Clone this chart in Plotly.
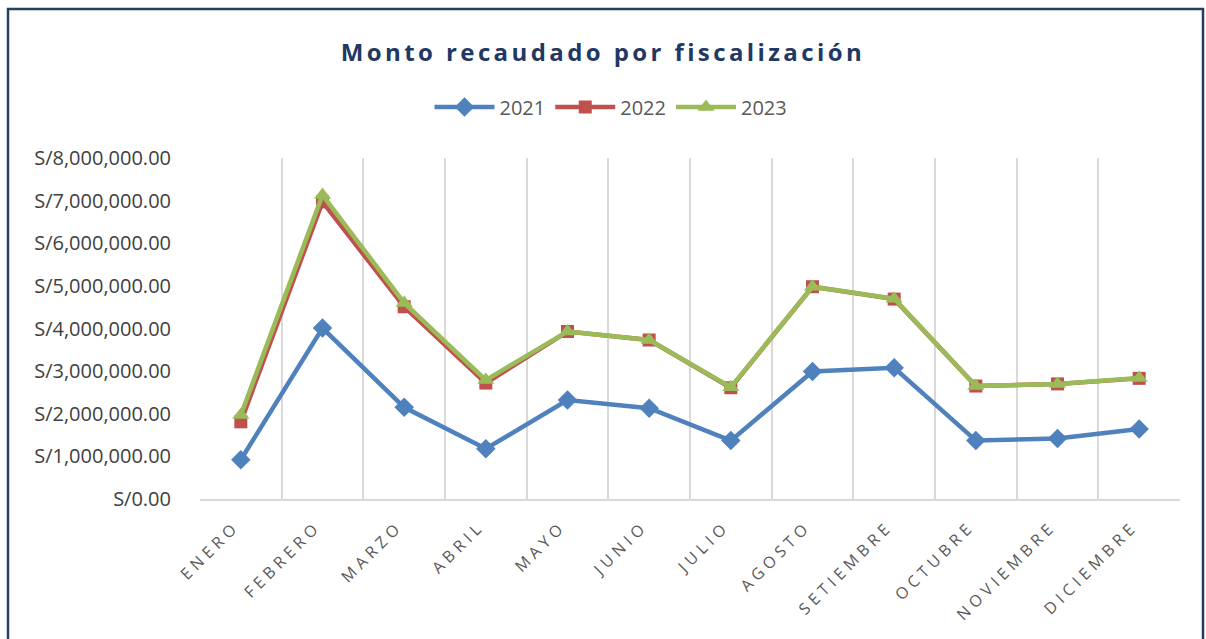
import plotly.graph_objects as go

meses = ["ENERO", "FEBRERO", "MARZO", "ABRIL", "MAYO", "JUNIO", "JULIO",
         "AGOSTO", "SETIEMBRE", "OCTUBRE", "NOVIEMBRE", "DICIEMBRE"]
v2021 = [920000, 4010000, 2150000, 1180000, 2320000, 2130000, 1370000,
         2990000, 3080000, 1370000, 1420000, 1640000]
v2022 = [1810000, 6970000, 4510000, 2720000, 3930000, 3730000, 2610000,
         4980000, 4690000, 2650000, 2700000, 2830000]
v2023 = [1970000, 7130000, 4600000, 2790000, 3930000, 3730000, 2620000,
         4980000, 4700000, 2650000, 2700000, 2840000]
y_ticks = [0, 1000000, 2000000, 3000000, 4000000, 5000000, 6000000, 7000000, 8000000]
y_labels = [f"S/{v:,.2f}" for v in y_ticks]

fig = go.Figure()
fig.add_trace(go.Scatter(x=meses, y=v2021, name="2021", mode="lines+markers",
                         line=dict(color="#4F81BD", width=4.5),
                         marker=dict(symbol="diamond", size=15, color="#4F81BD")))
fig.add_trace(go.Scatter(x=meses, y=v2022, name="2022", mode="lines+markers",
                         line=dict(color="#C0504D", width=4.5),
                         marker=dict(symbol="square", size=13, color="#C0504D")))
fig.add_trace(go.Scatter(x=meses, y=v2023, name="2023", mode="lines+markers",
                         line=dict(color="#9BBB59", width=4.5),
                         marker=dict(symbol="triangle-up", size=15, color="#9BBB59")))

L, R, T, B = 200, 26, 158, 140
W, H = 1206, 639
pw = W - L - R
ph = H - T - B

def px_x(px):
    return (px - L) / pw

def px_y(py):
    return (H - B - py) / ph

fig.update_layout(
    width=W, height=H,
    margin=dict(l=L, r=R, t=T, b=B),
    paper_bgcolor="white", plot_bgcolor="white",
    title=dict(text="<b>Monto recaudado por fiscalización</b>",
               x=603 / W, xanchor="center", y=1 - 53 / H, yanchor="middle",
               font=dict(family="Open Sans", size=24, color="#1F3864")),
    legend=dict(orientation="h", x=px_x(611), xanchor="center",
                y=px_y(107), yanchor="middle",
                font=dict(family="Open Sans", size=20, color="#595959"),
                itemwidth=60, bgcolor="rgba(0,0,0,0)"),
    showlegend=True,
    xaxis=dict(type="category", range=[-0.5, 11.5], tickson="boundaries",
               showgrid=True, gridcolor="#D9D9D9", gridwidth=1.5,
               showline=True, linecolor="#D9D9D9", linewidth=1.5,
               ticks="outside", ticklen=34, tickcolor="rgba(0,0,0,0)",
               tickangle=-45, ticklabelstandoff=10, ticklabelshift=-6,
               tickfont=dict(family="Open Sans", size=16, color="#595959")),
    yaxis=dict(range=[0, 8000000], tickmode="array", tickvals=y_ticks, ticktext=y_labels,
               showgrid=False, zeroline=False, showline=False,
               ticks="outside", ticklen=24, tickcolor="rgba(0,0,0,0)",
               tickfont=dict(family="Open Sans", size=20, color="#404040")),
    shapes=[dict(type="rect", xref="paper", yref="paper",
                 x0=px_x(8), x1=px_x(1203), y0=px_y(660), y1=px_y(9),
                 line=dict(color="#243F60", width=2.5), fillcolor="rgba(0,0,0,0)",
                 layer="below")],
)

post = """
document.body.style.margin = '0';
var gd = document.getElementById('{plot_id}');
function spacing() {
  gd.querySelectorAll('.gtitle').forEach(function (e) { e.style.letterSpacing = '3.4px'; });
  gd.querySelectorAll('.xtick text').forEach(function (e) { e.style.letterSpacing = '4.6px'; });
}
spacing();
gd.on('plotly_afterplot', spacing);
"""

fig.write_html("out.html", post_script=post, config={"displayModeBar": False})
